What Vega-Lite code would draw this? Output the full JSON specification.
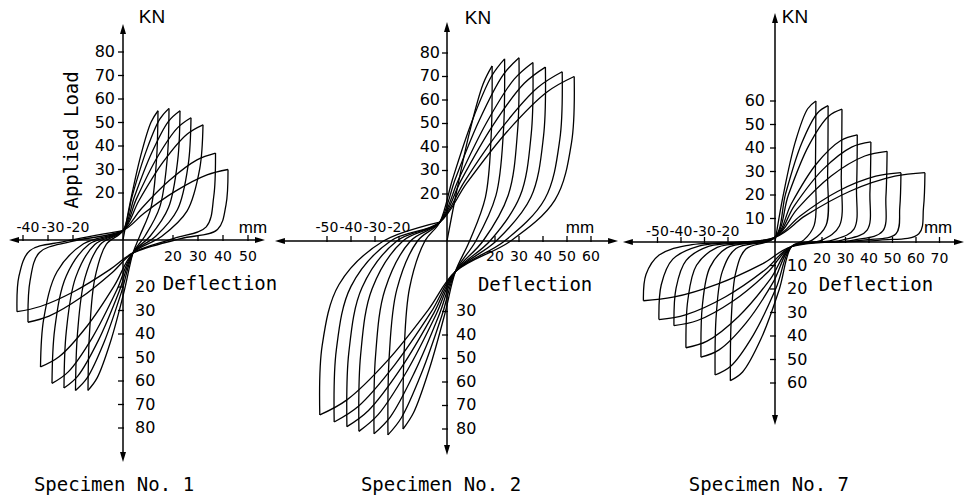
{
"$schema":"https://vega.github.io/schema/vega-lite/v6.json",
"padding":0,
"background":"white",
"spacing":0,
"bounds":"flush",
"config":{"view":{"stroke":null},"concat":{"spacing":0}},
"resolve":{"scale":{"x":"independent","y":"independent"}},
"datasets":{
"c1":[
{"s":1,"x":0,"y":0},{"s":1,"x":2.8,"y":15.6},{"s":1,"x":7,"y":35.5},{"s":1,"x":11.2,"y":50.1},{"s":1,"x":14,"y":55},
{"s":2,"x":14,"y":55},{"s":2,"x":13.4,"y":34.1},{"s":2,"x":11.2,"y":13.8},{"s":2,"x":6.7,"y":1.7},{"s":2,"x":4,"y":-5.5},{"s":2,"x":0.4,"y":-22.1},{"s":2,"x":-5,"y":-43.3},{"s":2,"x":-10.4,"y":-58.8},{"s":2,"x":-14,"y":-64},
{"s":3,"x":-14,"y":-64},{"s":3,"x":-13.4,"y":-39.7},{"s":3,"x":-11.2,"y":-16},{"s":3,"x":-6.7,"y":-1.9},{"s":3,"x":0,"y":4},{"s":3,"x":3.7,"y":18.8},{"s":3,"x":9.2,"y":37.6},{"s":3,"x":14.7,"y":51.4},{"s":3,"x":18.4,"y":56},
{"s":4,"x":18.4,"y":56},{"s":4,"x":17.7,"y":34.7},{"s":4,"x":14.7,"y":14},{"s":4,"x":8.8,"y":1.7},{"s":4,"x":4,"y":-5.5},{"s":4,"x":-0.6,"y":-22.1},{"s":4,"x":-7.5,"y":-43.3},{"s":4,"x":-14.4,"y":-58.8},{"s":4,"x":-19,"y":-64},
{"s":5,"x":-19,"y":-64},{"s":5,"x":-18.2,"y":-39.7},{"s":5,"x":-15.2,"y":-16},{"s":5,"x":-9.1,"y":-1.9},{"s":5,"x":0,"y":4},{"s":5,"x":4.6,"y":18.5},{"s":5,"x":11.4,"y":36.9},{"s":5,"x":18.2,"y":50.5},{"s":5,"x":22.8,"y":55},
{"s":6,"x":22.8,"y":55},{"s":6,"x":21.9,"y":34.1},{"s":6,"x":18.2,"y":13.8},{"s":6,"x":10.9,"y":1.7},{"s":6,"x":4,"y":-5.5},{"s":6,"x":-1.5,"y":-21.8},{"s":6,"x":-9.8,"y":-42.6},{"s":6,"x":-18.1,"y":-57.9},{"s":6,"x":-23.6,"y":-63},
{"s":7,"x":-23.6,"y":-63},{"s":7,"x":-22.7,"y":-39.1},{"s":7,"x":-18.9,"y":-15.8},{"s":7,"x":-11.3,"y":-1.9},{"s":7,"x":0,"y":4},{"s":7,"x":5.4,"y":17.6},{"s":7,"x":13.6,"y":35},{"s":7,"x":21.8,"y":47.7},{"s":7,"x":27.2,"y":52},
{"s":8,"x":27.2,"y":52},{"s":8,"x":26.1,"y":32.2},{"s":8,"x":21.8,"y":13},{"s":8,"x":13.1,"y":1.6},{"s":8,"x":4,"y":-5.5},{"s":8,"x":-2.5,"y":-21.3},{"s":8,"x":-12.2,"y":-41.4},{"s":8,"x":-21.9,"y":-56.1},{"s":8,"x":-28.4,"y":-61},
{"s":9,"x":-28.4,"y":-61},{"s":9,"x":-27.3,"y":-37.8},{"s":9,"x":-22.7,"y":-15.3},{"s":9,"x":-13.6,"y":-1.8},{"s":9,"x":0,"y":4},{"s":9,"x":6.4,"y":16.8},{"s":9,"x":16,"y":33.1},{"s":9,"x":25.6,"y":45},{"s":9,"x":32,"y":49},
{"s":10,"x":32,"y":49},{"s":10,"x":30.7,"y":30.4},{"s":10,"x":25.6,"y":12.3},{"s":10,"x":15.4,"y":1.5},{"s":10,"x":4,"y":-5.5},{"s":10,"x":-3.4,"y":-19.3},{"s":10,"x":-14.5,"y":-36.8},{"s":10,"x":-25.6,"y":-49.7},{"s":10,"x":-33,"y":-54},
{"s":11,"x":-33,"y":-54},{"s":11,"x":-31.7,"y":-33.5},{"s":11,"x":-26.4,"y":-13.5},{"s":11,"x":-15.8,"y":-1.6},{"s":11,"x":0,"y":4},{"s":11,"x":7.4,"y":13.4},{"s":11,"x":18.5,"y":25.3},{"s":11,"x":29.6,"y":34.1},{"s":11,"x":37,"y":37},
{"s":12,"x":37,"y":37},{"s":12,"x":36.3,"y":18.5},{"s":12,"x":33.3,"y":5.6},{"s":12,"x":20.4,"y":0.7},{"s":12,"x":4,"y":-5.5},{"s":12,"x":-4.4,"y":-13.9},{"s":12,"x":-17,"y":-24.6},{"s":12,"x":-29.6,"y":-32.4},{"s":12,"x":-38,"y":-35},
{"s":13,"x":-38,"y":-35},{"s":13,"x":-37.2,"y":-17.5},{"s":13,"x":-33.4,"y":-5.3},{"s":13,"x":-20.9,"y":-0.7},{"s":13,"x":0,"y":4},{"s":13,"x":8.4,"y":11.4},{"s":13,"x":21,"y":20.8},{"s":13,"x":33.6,"y":27.7},{"s":13,"x":42,"y":30},
{"s":14,"x":42,"y":30},{"s":14,"x":41.2,"y":15},{"s":14,"x":37.8,"y":4.5},{"s":14,"x":23.1,"y":0.6},{"s":14,"x":4,"y":-5.5},{"s":14,"x":-5.3,"y":-12.6},{"s":14,"x":-19.2,"y":-21.7},{"s":14,"x":-33.1,"y":-28.3},{"s":14,"x":-42.4,"y":-30.5},
{"s":15,"x":-42.4,"y":-30.5},{"s":15,"x":-41.6,"y":-15.3},{"s":15,"x":-37.3,"y":-4.6},{"s":15,"x":-23.3,"y":-0.6},{"s":15,"x":0,"y":4}
],
"c2":[
{"s":1,"x":0,"y":0},{"s":1,"x":3.8,"y":20},{"s":1,"x":9.4,"y":46.3},{"s":1,"x":15,"y":66.7},{"s":1,"x":18.8,"y":74.5},
{"s":2,"x":18.8,"y":74.5},{"s":2,"x":18.4,"y":44.7},{"s":2,"x":16,"y":18.6},{"s":2,"x":9.4,"y":0},{"s":2,"x":3.5,"y":-13},{"s":2,"x":-0.9,"y":-31},{"s":2,"x":-7.4,"y":-54.6},{"s":2,"x":-13.9,"y":-73},{"s":2,"x":-18.3,"y":-80},
{"s":3,"x":-18.3,"y":-80},{"s":3,"x":-17.9,"y":-48},{"s":3,"x":-15.6,"y":-20},{"s":3,"x":-9.2,"y":0},{"s":3,"x":-3,"y":8},{"s":3,"x":2.4,"y":26.6},{"s":3,"x":10.5,"y":51.2},{"s":3,"x":18.6,"y":70.2},{"s":3,"x":24,"y":77.5},
{"s":4,"x":24,"y":77.5},{"s":4,"x":23.5,"y":46.5},{"s":4,"x":20.4,"y":19.4},{"s":4,"x":12,"y":0},{"s":4,"x":3.5,"y":-13},{"s":4,"x":-2.1,"y":-31.6},{"s":4,"x":-10.6,"y":-56.2},{"s":4,"x":-19,"y":-75.2},{"s":4,"x":-24.6,"y":-82.5},
{"s":5,"x":-24.6,"y":-82.5},{"s":5,"x":-24.1,"y":-49.5},{"s":5,"x":-20.9,"y":-20.6},{"s":5,"x":-12.3,"y":0},{"s":5,"x":-3,"y":8},{"s":5,"x":3.6,"y":26.8},{"s":5,"x":13.5,"y":51.5},{"s":5,"x":23.4,"y":70.7},{"s":5,"x":30,"y":78},
{"s":6,"x":30,"y":78},{"s":6,"x":29.4,"y":46.8},{"s":6,"x":25.5,"y":19.5},{"s":6,"x":15,"y":0},{"s":6,"x":3.5,"y":-13},{"s":6,"x":-3.3,"y":-31.5},{"s":6,"x":-13.5,"y":-55.8},{"s":6,"x":-23.6,"y":-74.8},{"s":6,"x":-30.4,"y":-82},
{"s":7,"x":-30.4,"y":-82},{"s":7,"x":-29.8,"y":-49.2},{"s":7,"x":-25.8,"y":-20.5},{"s":7,"x":-15.2,"y":0},{"s":7,"x":-3,"y":8},{"s":7,"x":4.8,"y":26.2},{"s":7,"x":16.4,"y":50.2},{"s":7,"x":28,"y":68.9},{"s":7,"x":35.8,"y":76},
{"s":8,"x":35.8,"y":76},{"s":8,"x":35.1,"y":45.6},{"s":8,"x":30.4,"y":19},{"s":8,"x":17.9,"y":0},{"s":8,"x":3.5,"y":-13},{"s":8,"x":-4.5,"y":-31.2},{"s":8,"x":-16.6,"y":-55.2},{"s":8,"x":-28.7,"y":-73.9},{"s":8,"x":-36.7,"y":-81},
{"s":9,"x":-36.7,"y":-81},{"s":9,"x":-36,"y":-48.6},{"s":9,"x":-31.2,"y":-20.3},{"s":9,"x":-18.4,"y":0},{"s":9,"x":-3,"y":8},{"s":9,"x":5.8,"y":25.7},{"s":9,"x":19,"y":49},{"s":9,"x":32.2,"y":67.1},{"s":9,"x":41,"y":74},
{"s":10,"x":41,"y":74},{"s":10,"x":40.2,"y":44.4},{"s":10,"x":34.9,"y":18.5},{"s":10,"x":20.5,"y":0},{"s":10,"x":3.5,"y":-13},{"s":10,"x":-5.5,"y":-30.7},{"s":10,"x":-19.1,"y":-54},{"s":10,"x":-32.7,"y":-72.1},{"s":10,"x":-41.7,"y":-79},
{"s":11,"x":-41.7,"y":-79},{"s":11,"x":-40.9,"y":-47.4},{"s":11,"x":-35.4,"y":-19.8},{"s":11,"x":-20.9,"y":0},{"s":11,"x":-3,"y":8},{"s":11,"x":7.2,"y":25.2},{"s":11,"x":22.5,"y":47.7},{"s":11,"x":37.8,"y":65.3},{"s":11,"x":48,"y":72},
{"s":12,"x":48,"y":72},{"s":12,"x":47,"y":43.2},{"s":12,"x":40.8,"y":18},{"s":12,"x":24,"y":0},{"s":12,"x":3.5,"y":-13},{"s":12,"x":-6.6,"y":-30.2},{"s":12,"x":-21.8,"y":-52.7},{"s":12,"x":-36.9,"y":-70.3},{"s":12,"x":-47,"y":-77},
{"s":13,"x":-47,"y":-77},{"s":13,"x":-46.1,"y":-46.2},{"s":13,"x":-40,"y":-19.3},{"s":13,"x":-23.5,"y":0},{"s":13,"x":-3,"y":8},{"s":13,"x":8.2,"y":24.6},{"s":13,"x":25,"y":46.5},{"s":13,"x":41.8,"y":63.5},{"s":13,"x":53,"y":70},
{"s":14,"x":53,"y":70},{"s":14,"x":51.9,"y":42},{"s":14,"x":45,"y":17.5},{"s":14,"x":26.5,"y":0},{"s":14,"x":3.5,"y":-13},{"s":14,"x":-7.8,"y":-29.3},{"s":14,"x":-24.8,"y":-50.9},{"s":14,"x":-41.7,"y":-67.6},{"s":14,"x":-53,"y":-74},
{"s":15,"x":-53,"y":-74},{"s":15,"x":-52,"y":-44.4},{"s":15,"x":-45,"y":-18.5},{"s":15,"x":-26.5,"y":0},{"s":15,"x":-3,"y":8}
],
"c3":[
{"s":1,"x":0,"y":0},{"s":1,"x":3.5,"y":19.9},{"s":1,"x":8.7,"y":42.8},{"s":1,"x":13.9,"y":56.7},{"s":1,"x":17.4,"y":60},
{"s":2,"x":17.4,"y":60},{"s":2,"x":17.2,"y":30},{"s":2,"x":16.7,"y":7.2},{"s":2,"x":12.2,"y":0.8},{"s":2,"x":7,"y":-2},{"s":2,"x":1.8,"y":-20.2},{"s":2,"x":-6,"y":-41.3},{"s":2,"x":-13.8,"y":-55.3},{"s":2,"x":-19,"y":-59},
{"s":3,"x":-19,"y":-59},{"s":3,"x":-18.6,"y":-32.5},{"s":3,"x":-16.7,"y":-13},{"s":3,"x":-12.4,"y":-3},{"s":3,"x":0,"y":2},{"s":3,"x":4.5,"y":20.5},{"s":3,"x":11.3,"y":41.9},{"s":3,"x":18.1,"y":54.9},{"s":3,"x":22.6,"y":58},
{"s":4,"x":22.6,"y":58},{"s":4,"x":22.4,"y":29},{"s":4,"x":21.7,"y":7},{"s":4,"x":15.8,"y":0.8},{"s":4,"x":7,"y":-2},{"s":4,"x":0.5,"y":-19.5},{"s":4,"x":-9.3,"y":-39.7},{"s":4,"x":-19,"y":-53},{"s":4,"x":-25.5,"y":-56.6},
{"s":5,"x":-25.5,"y":-56.6},{"s":5,"x":-25,"y":-31.1},{"s":5,"x":-22.4,"y":-12.5},{"s":5,"x":-16.6,"y":-2.8},{"s":5,"x":0,"y":2},{"s":5,"x":5.7,"y":20},{"s":5,"x":14.3,"y":40.9},{"s":5,"x":22.8,"y":53.5},{"s":5,"x":28.5,"y":56.5},
{"s":6,"x":28.5,"y":56.5},{"s":6,"x":28.2,"y":28.3},{"s":6,"x":27.4,"y":6.8},{"s":6,"x":20,"y":0.8},{"s":6,"x":7,"y":-2},{"s":6,"x":-0.7,"y":-17},{"s":6,"x":-12.3,"y":-34.4},{"s":6,"x":-23.8,"y":-45.9},{"s":6,"x":-31.5,"y":-49},
{"s":7,"x":-31.5,"y":-49},{"s":7,"x":-30.9,"y":-27},{"s":7,"x":-27.7,"y":-10.8},{"s":7,"x":-20.5,"y":-2.5},{"s":7,"x":0,"y":2},{"s":7,"x":7,"y":16.4},{"s":7,"x":17.5,"y":33.1},{"s":7,"x":28,"y":43.2},{"s":7,"x":35,"y":45.6},
{"s":8,"x":35,"y":45.6},{"s":8,"x":34.7,"y":22.8},{"s":8,"x":33.6,"y":5.5},{"s":8,"x":24.5,"y":0.8},{"s":8,"x":7,"y":-2},{"s":8,"x":-2,"y":-15.8},{"s":8,"x":-15.5,"y":-31.7},{"s":8,"x":-28.9,"y":-42.2},{"s":8,"x":-37.9,"y":-45},
{"s":9,"x":-37.9,"y":-45},{"s":9,"x":-37.1,"y":-24.8},{"s":9,"x":-33.4,"y":-9.9},{"s":9,"x":-24.6,"y":-2.3},{"s":9,"x":0,"y":2},{"s":9,"x":8.2,"y":15.4},{"s":9,"x":20.4,"y":30.9},{"s":9,"x":32.6,"y":40.4},{"s":9,"x":40.8,"y":42.6},
{"s":10,"x":40.8,"y":42.6},{"s":10,"x":40.4,"y":21.3},{"s":10,"x":39.2,"y":5.1},{"s":10,"x":28.6,"y":0.8},{"s":10,"x":7,"y":-2},{"s":10,"x":-3,"y":-12.8},{"s":10,"x":-18,"y":-25.2},{"s":10,"x":-33,"y":-33.4},{"s":10,"x":-43,"y":-35.6},
{"s":11,"x":-43,"y":-35.6},{"s":11,"x":-42.1,"y":-19.6},{"s":11,"x":-37.8,"y":-7.8},{"s":11,"x":-28,"y":-1.8},{"s":11,"x":0,"y":2},{"s":11,"x":9.5,"y":14.1},{"s":11,"x":23.9,"y":28.1},{"s":11,"x":38.2,"y":36.6},{"s":11,"x":47.7,"y":38.6},
{"s":12,"x":47.7,"y":38.6},{"s":12,"x":47.2,"y":19.3},{"s":12,"x":45.8,"y":4.6},{"s":12,"x":33.4,"y":0.8},{"s":12,"x":7,"y":-2},{"s":12,"x":-4.3,"y":-11.9},{"s":12,"x":-21.2,"y":-23.4},{"s":12,"x":-38.1,"y":-31},{"s":12,"x":-49.4,"y":-33},
{"s":13,"x":-49.4,"y":-33},{"s":13,"x":-48.4,"y":-18.2},{"s":13,"x":-43.5,"y":-7.3},{"s":13,"x":-32.1,"y":-1.7},{"s":13,"x":0,"y":2},{"s":13,"x":10.7,"y":11.1},{"s":13,"x":26.8,"y":21.6},{"s":13,"x":42.9,"y":28},{"s":13,"x":53.6,"y":29.5},
{"s":14,"x":53.6,"y":29.5},{"s":14,"x":53.1,"y":14.8},{"s":14,"x":51.5,"y":3.5},{"s":14,"x":37.5,"y":0.8},{"s":14,"x":7,"y":-2},{"s":14,"x":-5.6,"y":-9.4},{"s":14,"x":-24.5,"y":-17.9},{"s":14,"x":-43.4,"y":-23.5},{"s":14,"x":-56,"y":-25},
{"s":15,"x":-56,"y":-25},{"s":15,"x":-54.9,"y":-13.8},{"s":15,"x":-49.3,"y":-5.5},{"s":15,"x":-36.4,"y":-1.3},{"s":15,"x":0,"y":2},{"s":15,"x":12.8,"y":11.1},{"s":15,"x":31.9,"y":21.6},{"s":15,"x":51,"y":28},{"s":15,"x":63.8,"y":29.5},
{"s":16,"x":63.8,"y":29.5},{"s":16,"x":63.2,"y":14.8},{"s":16,"x":61.2,"y":3.5},{"s":16,"x":44.7,"y":0.8},{"s":16,"x":20,"y":0}
]
},
"hconcat":[
{
"width":270,"height":502,
"encoding":{
"x":{"field":"x","type":"quantitative","scale":{"domain":[-49.2,58.8],"nice":false,"zero":false},"axis":null},
"y":{"field":"y","type":"quantitative","scale":{"domain":[-111.489,102.128],"nice":false,"zero":false},"axis":null}
},
"layer":[
{"data":{"name":"c1"},"mark":{"type":"line","interpolate":"catmull-rom","color":"black","strokeWidth":1.3},"encoding":{"detail":{"field":"s","type":"nominal"},"order":{"value":null}}},
{"data":{"values":[{"x":-43.6,"y":0,"x2":54.8,"y2":0},{"x":0,"y":-92.3,"x2":0,"y2":89.8}]},"mark":{"type":"rule","color":"black","strokeWidth":1.5},"encoding":{"x2":{"field":"x2"},"y2":{"field":"y2"}}},
{"data":{"values":[{"x":-43.6,"y":0,"d":"l"},{"x":54.8,"y":0,"d":"r"},{"x":0,"y":89.8,"d":"u"},{"x":0,"y":-92.3,"d":"d"}]},"mark":{"type":"point","filled":true,"color":"black","opacity":1,"size":100},"encoding":{"shape":{"field":"d","type":"nominal","scale":{"domain":["l","r","u","d"],"range":["M-1,0L1,-0.6L1,0.6Z","M1,0L-1,-0.6L-1,0.6Z","M0,-1L0.6,1L-0.6,1Z","M0,1L0.6,-1L-0.6,-1Z"]},"legend":null}}},
{"data":{"values":[{"x":-40,"y":0},{"x":-30,"y":0},{"x":-20,"y":0},{"x":20,"y":0},{"x":30,"y":0},{"x":40,"y":0},{"x":50,"y":0}]},"mark":{"type":"point","shape":"M0,-1L0,1","size":36,"color":"black","opacity":1,"strokeWidth":1.3,"yOffset":-2},"encoding":{}},
{"data":{"values":[{"x":0,"y":20},{"x":0,"y":30},{"x":0,"y":40},{"x":0,"y":50},{"x":0,"y":60},{"x":0,"y":70},{"x":0,"y":80},{"x":0,"y":-20},{"x":0,"y":-30},{"x":0,"y":-40},{"x":0,"y":-50},{"x":0,"y":-60},{"x":0,"y":-70},{"x":0,"y":-80}]},"mark":{"type":"point","shape":"M-1,0L1,0","size":36,"color":"black","opacity":1,"strokeWidth":1.3,"xOffset":-2},"encoding":{}},
{"data":{"values":[{"x":0,"y":20,"t":"20"},{"x":0,"y":30,"t":"30"},{"x":0,"y":40,"t":"40"},{"x":0,"y":50,"t":"50"},{"x":0,"y":60,"t":"60"},{"x":0,"y":70,"t":"70"},{"x":0,"y":80,"t":"80"}]},"mark":{"type":"text","align":"right","baseline":"middle","dx":-8,"font":"DejaVu Sans","fontSize":16,"color":"black"},"encoding":{"text":{"field":"t"}}},
{"data":{"values":[{"x":0,"y":-20,"t":"20"},{"x":0,"y":-30,"t":"30"},{"x":0,"y":-40,"t":"40"},{"x":0,"y":-50,"t":"50"},{"x":0,"y":-60,"t":"60"},{"x":0,"y":-70,"t":"70"},{"x":0,"y":-80,"t":"80"}]},"mark":{"type":"text","align":"left","baseline":"middle","dx":12,"font":"DejaVu Sans","fontSize":16,"color":"black"},"encoding":{"text":{"field":"t"}}},
{"data":{"values":[{"x":-40,"y":0,"t":"-40"},{"x":-30,"y":0,"t":"-30"},{"x":-20,"y":0,"t":"-20"}]},"mark":{"type":"text","align":"center","baseline":"middle","dx":5,"dy":-12,"font":"DejaVu Sans","fontSize":14,"color":"black"},"encoding":{"text":{"field":"t"}}},
{"data":{"values":[{"x":20,"y":0,"t":"20"},{"x":30,"y":0,"t":"30"},{"x":40,"y":0,"t":"40"},{"x":50,"y":0,"t":"50"}]},"mark":{"type":"text","align":"center","baseline":"middle","dy":17,"font":"DejaVu Sans","fontSize":14,"color":"black"},"encoding":{"text":{"field":"t"}}},
{"data":{"values":[{"x":11.6,"y":94.9,"t":"KN"}]},"mark":{"type":"text","align":"center","baseline":"middle","font":"Liberation Sans","fontSize":19,"color":"black"},"encoding":{"text":{"field":"t"}}},
{"data":{"values":[{"x":52,"y":5.1,"t":"mm"}]},"mark":{"type":"text","align":"center","baseline":"middle","font":"Liberation Sans","fontSize":17,"color":"black"},"encoding":{"text":{"field":"t"}}},
{"data":{"values":[{"x":38.8,"y":-18.7,"t":"Deflection"},{"x":-3.6,"y":-104.3,"t":"Specimen No. 1"}]},"mark":{"type":"text","align":"center","baseline":"middle","font":"DejaVu Sans Mono","fontSize":19,"color":"black"},"encoding":{"text":{"field":"t"}}},
{"data":{"values":[{"x":-20.4,"y":42.6,"t":"Applied Load"}]},"mark":{"type":"text","align":"center","baseline":"middle","angle":270,"font":"DejaVu Sans Mono","fontSize":19,"color":"black"},"encoding":{"text":{"field":"t"}}}
]
},
{
"width":350,"height":502,
"encoding":{
"x":{"field":"x","type":"quantitative","scale":{"domain":[-73.75,72.083],"nice":false,"zero":false},"axis":null},
"y":{"field":"y","type":"quantitative","scale":{"domain":[-111.064,102.553],"nice":false,"zero":false},"axis":null}
},
"layer":[
{"data":{"name":"c2"},"mark":{"type":"line","interpolate":"catmull-rom","color":"black","strokeWidth":1.3},"encoding":{"detail":{"field":"s","type":"nominal"},"order":{"value":null}}},
{"data":{"values":[{"x":-69.6,"y":0,"x2":69.2,"y2":0},{"x":0,"y":-88.9,"x2":0,"y2":91.1}]},"mark":{"type":"rule","color":"black","strokeWidth":1.5},"encoding":{"x2":{"field":"x2"},"y2":{"field":"y2"}}},
{"data":{"values":[{"x":-69.6,"y":0,"d":"l"},{"x":69.2,"y":0,"d":"r"},{"x":0,"y":91.1,"d":"u"},{"x":0,"y":-88.9,"d":"d"}]},"mark":{"type":"point","filled":true,"color":"black","opacity":1,"size":100},"encoding":{"shape":{"field":"d","type":"nominal","scale":{"domain":["l","r","u","d"],"range":["M-1,0L1,-0.6L1,0.6Z","M1,0L-1,-0.6L-1,0.6Z","M0,-1L0.6,1L-0.6,1Z","M0,1L0.6,-1L-0.6,-1Z"]},"legend":null}}},
{"data":{"values":[{"x":-50,"y":0},{"x":-40,"y":0},{"x":-30,"y":0},{"x":-20,"y":0},{"x":20,"y":0},{"x":30,"y":0},{"x":40,"y":0},{"x":50,"y":0},{"x":60,"y":0}]},"mark":{"type":"point","shape":"M0,-1L0,1","size":36,"color":"black","opacity":1,"strokeWidth":1.3,"yOffset":-2},"encoding":{}},
{"data":{"values":[{"x":0,"y":20},{"x":0,"y":30},{"x":0,"y":40},{"x":0,"y":50},{"x":0,"y":60},{"x":0,"y":70},{"x":0,"y":80},{"x":0,"y":-30},{"x":0,"y":-40},{"x":0,"y":-50},{"x":0,"y":-60},{"x":0,"y":-70},{"x":0,"y":-80}]},"mark":{"type":"point","shape":"M-1,0L1,0","size":36,"color":"black","opacity":1,"strokeWidth":1.3,"xOffset":-2},"encoding":{}},
{"data":{"values":[{"x":0,"y":20,"t":"20"},{"x":0,"y":30,"t":"30"},{"x":0,"y":40,"t":"40"},{"x":0,"y":50,"t":"50"},{"x":0,"y":60,"t":"60"},{"x":0,"y":70,"t":"70"},{"x":0,"y":80,"t":"80"}]},"mark":{"type":"text","align":"right","baseline":"middle","dx":-7,"font":"DejaVu Sans","fontSize":16,"color":"black"},"encoding":{"text":{"field":"t"}}},
{"data":{"values":[{"x":0,"y":-30,"t":"30"},{"x":0,"y":-40,"t":"40"},{"x":0,"y":-50,"t":"50"},{"x":0,"y":-60,"t":"60"},{"x":0,"y":-70,"t":"70"},{"x":0,"y":-80,"t":"80"}]},"mark":{"type":"text","align":"left","baseline":"middle","dx":9,"font":"DejaVu Sans","fontSize":16,"color":"black"},"encoding":{"text":{"field":"t"}}},
{"data":{"values":[{"x":-50,"y":0,"t":"-50"},{"x":-40,"y":0,"t":"-40"},{"x":-30,"y":0,"t":"-30"},{"x":-20,"y":0,"t":"-20"}]},"mark":{"type":"text","align":"center","baseline":"middle","dy":-13,"font":"DejaVu Sans","fontSize":14,"color":"black"},"encoding":{"text":{"field":"t"}}},
{"data":{"values":[{"x":20,"y":0,"t":"20"},{"x":30,"y":0,"t":"30"},{"x":40,"y":0,"t":"40"},{"x":50,"y":0,"t":"50"},{"x":60,"y":0,"t":"60"}]},"mark":{"type":"text","align":"center","baseline":"middle","dy":16,"font":"DejaVu Sans","fontSize":14,"color":"black"},"encoding":{"text":{"field":"t"}}},
{"data":{"values":[{"x":12.9,"y":94.9,"t":"KN"}]},"mark":{"type":"text","align":"center","baseline":"middle","font":"Liberation Sans","fontSize":19,"color":"black"},"encoding":{"text":{"field":"t"}}},
{"data":{"values":[{"x":55.4,"y":5.5,"t":"mm"}]},"mark":{"type":"text","align":"center","baseline":"middle","font":"Liberation Sans","fontSize":17,"color":"black"},"encoding":{"text":{"field":"t"}}},
{"data":{"values":[{"x":36.7,"y":-18.7,"t":"Deflection"},{"x":-2.5,"y":-103.8,"t":"Specimen No. 2"}]},"mark":{"type":"text","align":"center","baseline":"middle","font":"DejaVu Sans Mono","fontSize":19,"color":"black"},"encoding":{"text":{"field":"t"}}}
]
},
{
"width":344,"height":502,
"encoding":{
"x":{"field":"x","type":"quantitative","scale":{"domain":[-65.957,80.426],"nice":false,"zero":false},"axis":null},
"y":{"field":"y","type":"quantitative","scale":{"domain":[-110.638,102.979],"nice":false,"zero":false},"axis":null}
},
"layer":[
{"data":{"name":"c3"},"mark":{"type":"line","interpolate":"catmull-rom","color":"black","strokeWidth":1.3},"encoding":{"detail":{"field":"s","type":"nominal"},"order":{"value":null}}},
{"data":{"values":[{"x":-62.6,"y":0,"x2":78.3,"y2":0},{"x":0,"y":-75.7,"x2":0,"y2":95.3}]},"mark":{"type":"rule","color":"black","strokeWidth":1.5},"encoding":{"x2":{"field":"x2"},"y2":{"field":"y2"}}},
{"data":{"values":[{"x":-62.6,"y":0,"d":"l"},{"x":78.3,"y":0,"d":"r"},{"x":0,"y":95.3,"d":"u"},{"x":0,"y":-75.7,"d":"d"}]},"mark":{"type":"point","filled":true,"color":"black","opacity":1,"size":100},"encoding":{"shape":{"field":"d","type":"nominal","scale":{"domain":["l","r","u","d"],"range":["M-1,0L1,-0.6L1,0.6Z","M1,0L-1,-0.6L-1,0.6Z","M0,-1L0.6,1L-0.6,1Z","M0,1L0.6,-1L-0.6,-1Z"]},"legend":null}}},
{"data":{"values":[{"x":-50,"y":0},{"x":-40,"y":0},{"x":-30,"y":0},{"x":-20,"y":0},{"x":20,"y":0},{"x":30,"y":0},{"x":40,"y":0},{"x":50,"y":0},{"x":60,"y":0},{"x":70,"y":0}]},"mark":{"type":"point","shape":"M0,-1L0,1","size":36,"color":"black","opacity":1,"strokeWidth":1.3,"yOffset":-2},"encoding":{}},
{"data":{"values":[{"x":0,"y":10},{"x":0,"y":20},{"x":0,"y":30},{"x":0,"y":40},{"x":0,"y":50},{"x":0,"y":60},{"x":0,"y":-10},{"x":0,"y":-20},{"x":0,"y":-30},{"x":0,"y":-40},{"x":0,"y":-50},{"x":0,"y":-60}]},"mark":{"type":"point","shape":"M-1,0L1,0","size":36,"color":"black","opacity":1,"strokeWidth":1.3,"xOffset":-2},"encoding":{}},
{"data":{"values":[{"x":0,"y":10,"t":"10"},{"x":0,"y":20,"t":"20"},{"x":0,"y":30,"t":"30"},{"x":0,"y":40,"t":"40"},{"x":0,"y":50,"t":"50"},{"x":0,"y":60,"t":"60"}]},"mark":{"type":"text","align":"right","baseline":"middle","dx":-10,"font":"DejaVu Sans","fontSize":16,"color":"black"},"encoding":{"text":{"field":"t"}}},
{"data":{"values":[{"x":0,"y":-10,"t":"10"},{"x":0,"y":-20,"t":"20"},{"x":0,"y":-30,"t":"30"},{"x":0,"y":-40,"t":"40"},{"x":0,"y":-50,"t":"50"},{"x":0,"y":-60,"t":"60"}]},"mark":{"type":"text","align":"left","baseline":"middle","dx":12,"font":"DejaVu Sans","fontSize":16,"color":"black"},"encoding":{"text":{"field":"t"}}},
{"data":{"values":[{"x":-50,"y":0,"t":"-50"},{"x":-40,"y":0,"t":"-40"},{"x":-30,"y":0,"t":"-30"},{"x":-20,"y":0,"t":"-20"}]},"mark":{"type":"text","align":"center","baseline":"middle","dy":-10,"font":"DejaVu Sans","fontSize":14,"color":"black"},"encoding":{"text":{"field":"t"}}},
{"data":{"values":[{"x":20,"y":0,"t":"20"},{"x":30,"y":0,"t":"30"},{"x":40,"y":0,"t":"40"},{"x":50,"y":0,"t":"50"},{"x":60,"y":0,"t":"60"},{"x":70,"y":0,"t":"70"}]},"mark":{"type":"text","align":"center","baseline":"middle","dy":17,"font":"DejaVu Sans","fontSize":14,"color":"black"},"encoding":{"text":{"field":"t"}}},
{"data":{"values":[{"x":8.5,"y":95.7,"t":"KN"}]},"mark":{"type":"text","align":"center","baseline":"middle","font":"Liberation Sans","fontSize":19,"color":"black"},"encoding":{"text":{"field":"t"}}},
{"data":{"values":[{"x":69.4,"y":6,"t":"mm"}]},"mark":{"type":"text","align":"center","baseline":"middle","font":"Liberation Sans","fontSize":17,"color":"black"},"encoding":{"text":{"field":"t"}}},
{"data":{"values":[{"x":43,"y":-18.3,"t":"Deflection"},{"x":-2.6,"y":-103.4,"t":"Specimen No. 7"}]},"mark":{"type":"text","align":"center","baseline":"middle","font":"DejaVu Sans Mono","fontSize":19,"color":"black"},"encoding":{"text":{"field":"t"}}}
]
}
]
}
